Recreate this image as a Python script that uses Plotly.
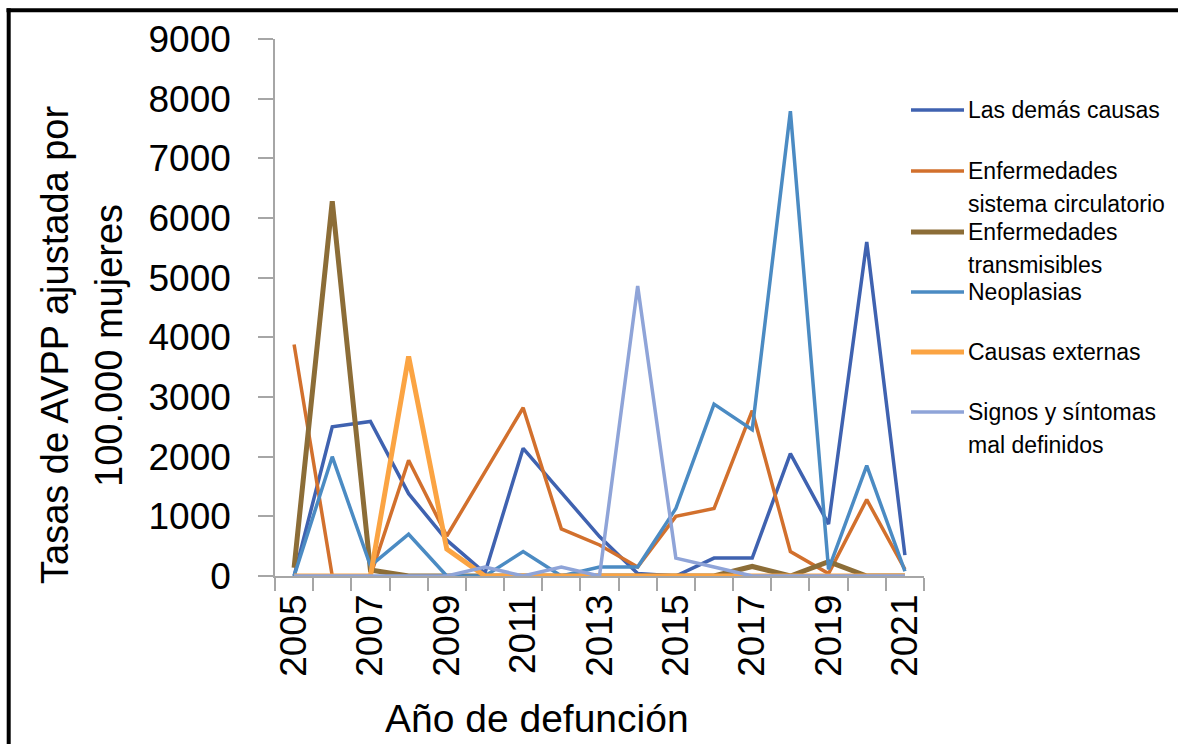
import plotly.graph_objects as go

years = list(range(2005, 2022))

series_names = [
    "Las demás causas",
    "Enfermedades sistema circulatorio",
    "Enfermedades transmisibles",
    "Neoplasias",
    "Causas externas",
    "Signos y síntomas mal definidos",
]

demas_causas = [0, 2500, 2590, 1380, 600, 50, 2140, 1410, 660, 40, 0, 300, 300, 2050, 870, 5600, 350]
circulatorio = [3880, 0, 0, 1940, 670, 1740, 2820, 790, 520, 150, 1000, 1130, 2770, 410, 40, 1280, 110]
transmisibles = [140, 6280, 100, 0, 0, 0, 0, 0, 0, 0, 0, 0, 160, 0, 240, 0, 0]
neoplasias = [0, 2000, 170, 700, 0, 0, 410, 0, 150, 150, 1130, 2880, 2450, 7790, 110, 1850, 80]
externas = [0, 0, 0, 3680, 450, 0, 0, 0, 0, 0, 0, 0, 0, 0, 0, 0, 0]
signos = [0, 0, 0, 0, 0, 150, 0, 150, 0, 4860, 300, 150, 0, 0, 0, 0, 0]

legend_lines = [
    ["Las demás causas"],
    ["Enfermedades", "sistema circulatorio"],
    ["Enfermedades", "transmisibles"],
    ["Neoplasias"],
    ["Causas externas"],
    ["Signos y síntomas", "mal definidos"],
]

x_tickvals = [2005, 2007, 2009, 2011, 2013, 2015, 2017, 2019, 2021]
x_ticktext = [str(v) for v in x_tickvals]
y_tickvals = list(range(0, 9001, 1000))

x_title = "Año de defunción"
y_title_lines = ["Tasas de AVPP ajustada por", "100.000 mujeres"]

colors = ["#3F62B0", "#D2702D", "#8C6D37", "#4B8BC3", "#FBA443", "#8FA4D8"]
widths = [3.5, 3.5, 5, 3.5, 5, 3.5]
data = [demas_causas, circulatorio, transmisibles, neoplasias, externas, signos]

W, H = 1178, 744
L, R = 275, 924
T, B = 39, 576

fig = go.Figure()
for name, vals, c, w in zip(series_names, data, colors, widths):
    fig.add_trace(go.Scatter(x=years, y=vals, mode="lines", name=name,
                             line=dict(color=c, width=w), showlegend=False))

def px(xp):
    return (xp - L) / (R - L)

def py(yp):
    return (B - yp) / (B - T)

regular = "Liberation Sans, Arial"

fig.update_layout(
    width=W, height=H,
    margin=dict(l=L, r=W - R, t=T, b=H - B, pad=0),
    paper_bgcolor="white", plot_bgcolor="white",
    xaxis=dict(
        range=[2004.5, 2021.5], showgrid=False, zeroline=False,
        showline=True, linecolor="#A6A6A6", linewidth=1.5,
        tickmode="array", tickvals=x_tickvals, ticktext=x_ticktext,
        ticks="", tickangle=-90,
        tickfont=dict(family=regular, size=37, color="black"),
        ticklabelstandoff=2,
        minor=dict(tickmode="linear", tick0=2004.5, dtick=1, ticks="outside",
                   ticklen=13, tickcolor="#A6A6A6", tickwidth=1.5, showgrid=False),
    ),
    yaxis=dict(
        range=[0, 9000], showgrid=False, zeroline=False,
        showline=True, linecolor="#A6A6A6", linewidth=1.5,
        tickmode="array", tickvals=y_tickvals,
        ticks="outside", ticklen=15, tickcolor="#A6A6A6", tickwidth=1.5,
        tickfont=dict(family=regular, size=37, color="black"),
        ticklabelstandoff=20,
    ),
)

annotations = []
shapes = []
# axis titles
annotations.append(dict(text=x_title, x=px(537), y=py(718), xref="paper", yref="paper",
                        showarrow=False, font=dict(family=regular, size=39, color="black"),
                        xanchor="center", yanchor="middle"))
for i, line in enumerate(y_title_lines):
    annotations.append(dict(text=line, x=px(55 + 54 * i), y=py(345), xref="paper", yref="paper",
                            showarrow=False, textangle=-90,
                            font=dict(family=regular, size=38, color="black"),
                            xanchor="center", yanchor="middle"))

# manual legend
leg_y = [110, 171, 232, 292, 352, 412]
for lines, c, w, yy in zip(legend_lines, colors, widths, leg_y):
    shapes.append(dict(type="line", xref="paper", yref="paper",
                       x0=px(911), x1=px(964), y0=py(yy), y1=py(yy),
                       line=dict(color=c, width=w)))
    for j, t in enumerate(lines):
        annotations.append(dict(text=t, x=px(966), y=py(yy + 33 * j), xref="paper", yref="paper",
                                showarrow=False, font=dict(family=regular, size=23, color="black"),
                                xanchor="left", yanchor="middle"))

# frame (top and left border)
shapes.append(dict(type="line", xref="paper", yref="paper",
                   x0=px(6.5), x1=px(1200), y0=py(10.3), y1=py(10.3),
                   line=dict(color="black", width=4)))
shapes.append(dict(type="line", xref="paper", yref="paper",
                   x0=px(8.7), x1=px(8.7), y0=py(8.3), y1=py(760),
                   line=dict(color="black", width=4)))

fig.update_layout(annotations=annotations, shapes=shapes)
fig.write_html("out.html", config={"displayModeBar": False},
               post_script="document.body.style.margin='0px';document.body.style.overflow='hidden';")
